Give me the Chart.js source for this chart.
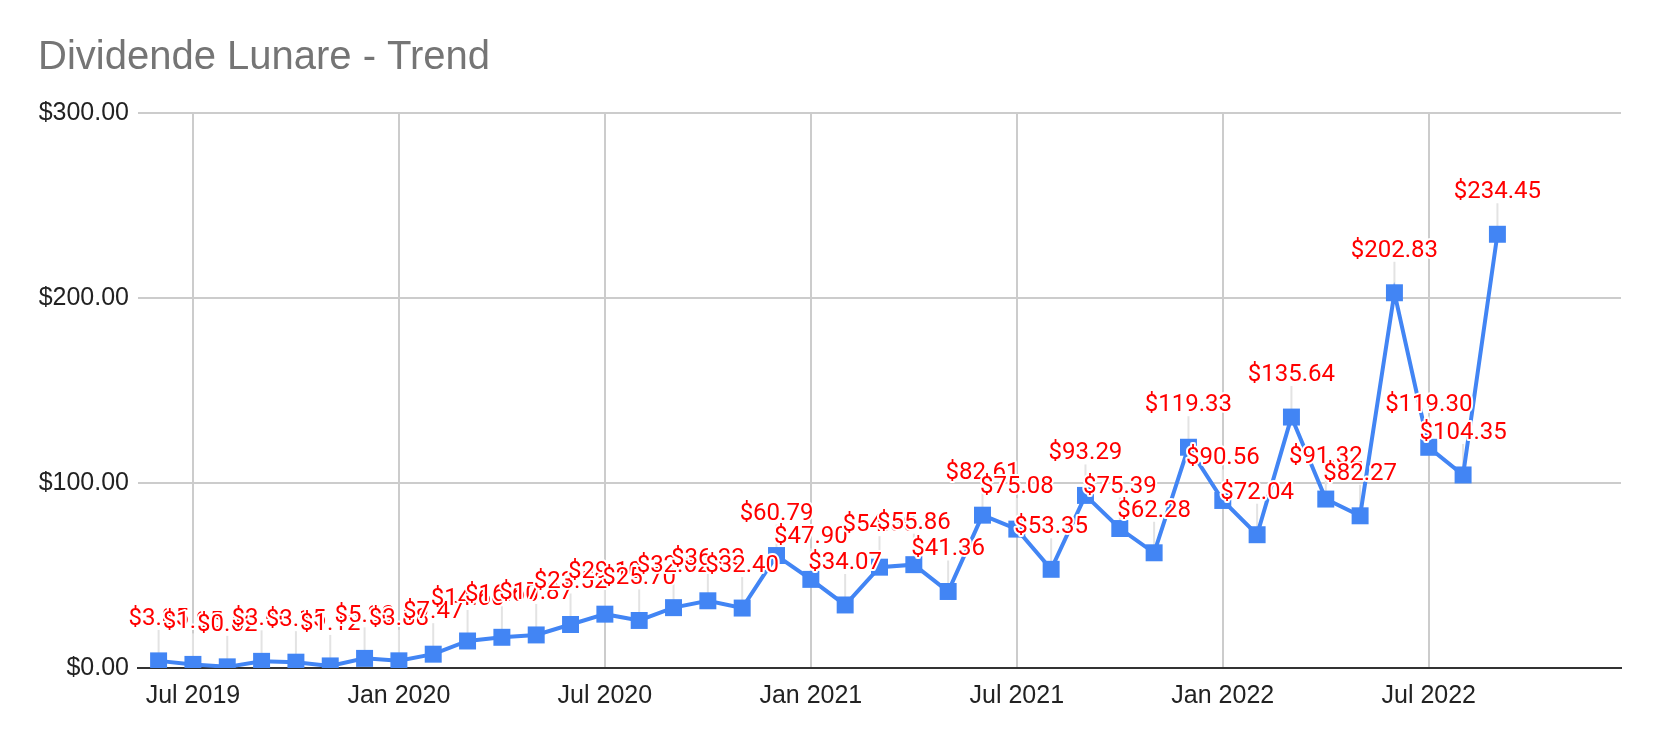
<!DOCTYPE html>
<html>
<head>
<meta charset="utf-8">
<script src="https://cdn.jsdelivr.net/npm/chart.js@4"></script>
<style>
  html, body { margin: 0; padding: 0; background: #ffffff; }
  #wrap { width: 1658px; height: 742px; }
</style>
</head>
<body>
<div id="wrap"><canvas id="c" width="1658" height="742"></canvas></div>
<script>
const chartTitle = 'Dividende Lunare - Trend';
const months = [
  'Jun 2019','Jul 2019','Aug 2019','Sep 2019','Oct 2019','Nov 2019','Dec 2019',
  'Jan 2020','Feb 2020','Mar 2020','Apr 2020','May 2020','Jun 2020','Jul 2020',
  'Aug 2020','Sep 2020','Oct 2020','Nov 2020','Dec 2020',
  'Jan 2021','Feb 2021','Mar 2021','Apr 2021','May 2021','Jun 2021','Jul 2021',
  'Aug 2021','Sep 2021','Oct 2021','Nov 2021','Dec 2021',
  'Jan 2022','Feb 2022','Mar 2022','Apr 2022','May 2022','Jun 2022','Jul 2022',
  'Aug 2022','Sep 2022'
];
const dividends = [
  3.85, 1.95, 0.62, 3.60, 3.15, 1.12, 5.20,
  3.88, 7.47, 14.60, 16.60, 17.87, 23.52, 29.10,
  25.70, 32.62, 36.33, 32.40, 60.79,
  47.90, 34.07, 54.50, 55.86, 41.36, 82.61, 75.08,
  53.35, 93.29, 75.39, 62.28, 119.33,
  90.56, 72.04, 135.64, 91.32, 82.27, 202.83, 119.30,
  104.35, 234.45
];
const xTickLabels = ['Jul 2019','Jan 2020','Jul 2020','Jan 2021','Jul 2021','Jan 2022','Jul 2022'];
const yTickValues = [0, 100, 200, 300];

const points = dividends.map((v, i) => ({ x: i, y: v }));
const fmt = v => '$' + v.toFixed(2);

const titlePlugin = {
  id: 'gtitle',
  afterDraw(chart) {
    const ctx = chart.ctx;
    ctx.save();
    ctx.font = '40px "Liberation Sans", Arial, sans-serif';
    ctx.fillStyle = '#757575';
    ctx.textAlign = 'left';
    ctx.textBaseline = 'alphabetic';
    ctx.fillText(chartTitle, 38, 69);
    ctx.restore();
  }
};

const LABEL_GAP = 36;
const annotPlugin = {
  id: 'annot',
  beforeDatasetsDraw(chart) {
    const ctx = chart.ctx;
    const meta = chart.getDatasetMeta(0);
    ctx.save();
    ctx.strokeStyle = '#e3e3e3';
    ctx.lineWidth = 2;
    meta.data.forEach(pt => {
      ctx.beginPath();
      ctx.moveTo(pt.x, pt.y);
      ctx.lineTo(pt.x, pt.y - LABEL_GAP + 5);
      ctx.stroke();
    });
    ctx.restore();
  },
  afterDatasetsDraw(chart) {
    const ctx = chart.ctx;
    const meta = chart.getDatasetMeta(0);
    ctx.save();
    ctx.font = '24px Roboto, "Noto Sans", sans-serif';
    ctx.textAlign = 'center';
    ctx.textBaseline = 'alphabetic';
    ctx.lineJoin = 'round';
    meta.data.forEach((pt, i) => {
      const txt = fmt(dividends[i]);
      const y = pt.y - LABEL_GAP;
      ctx.strokeStyle = '#ffffff';
      ctx.lineWidth = 4;
      ctx.strokeText(txt, pt.x, y);
      ctx.fillStyle = '#ff0000';
      ctx.fillText(txt, pt.x, y);
    });
    ctx.restore();
  }
};

new Chart(document.getElementById('c'), {
  type: 'line',
  data: {
    datasets: [{
      data: points,
      borderColor: '#4285F4',
      backgroundColor: '#4285F4',
      borderWidth: 4,
      tension: 0,
      pointStyle: 'rect',
      pointRadius: 12,
      pointBorderWidth: 0,
      pointBackgroundColor: '#4285F4'
    }]
  },
  options: {
    responsive: false,
    devicePixelRatio: 1,
    animation: false,
    layout: { padding: { left: 38, right: 37, top: 113, bottom: 0 } },
    plugins: { legend: { display: false }, tooltip: { enabled: false }, title: { display: false } },
    scales: {
      x: {
        type: 'linear',
        min: -0.6,
        max: 42.6,
        afterFit(scale) { scale.height = 74; },
        afterBuildTicks(scale) {
          scale.ticks = xTickLabels.map(l => ({ value: months.indexOf(l) }));
        },
        ticks: {
          autoSkip: false,
          maxRotation: 0,
          padding: 13,
          color: '#222222',
          font: { family: '"Liberation Sans", Arial, sans-serif', size: 25 },
          callback: v => months[v]
        },
        grid: { color: '#cccccc', lineWidth: 2, drawTicks: false },
        border: { display: true, color: '#333333', width: 2 }
      },
      y: {
        min: 0,
        max: 300,
        afterFit(scale) { scale.width = 100; },
        afterBuildTicks(scale) {
          scale.ticks = yTickValues.map(v => ({ value: v }));
        },
        ticks: {
          padding: 9,
          color: '#222222',
          font: { family: '"Liberation Sans", Arial, sans-serif', size: 25 },
          callback: v => fmt(v)
        },
        grid: { color: '#cccccc', lineWidth: 2, drawTicks: false },
        border: { display: false }
      }
    }
  },
  plugins: [annotPlugin, titlePlugin]
});
</script>
</body>
</html>
